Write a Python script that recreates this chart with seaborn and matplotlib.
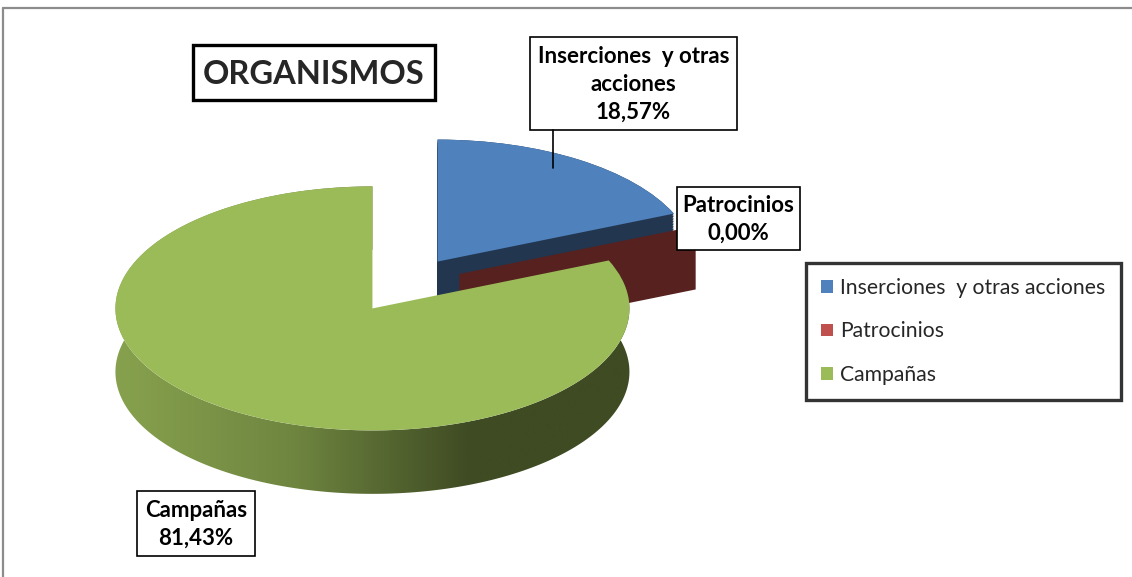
import numpy as np
import matplotlib
matplotlib.use("Agg")
import matplotlib.pyplot as plt
import seaborn as sns
from matplotlib.patches import Polygon, Rectangle, Patch
from matplotlib.colors import LinearSegmentedColormap
from matplotlib.lines import Line2D

# --- data ---
categories = ["Inserciones  y otras acciones", "Patrocinios", "Campañas"]
label_names = ["Inserciones  y otras\nacciones", "Patrocinios", "Campañas"]
values = [18.57, 0.00, 81.43]
top_colors = ["#4F81BD", "#C0504D", "#9BBB59"]
side_colors = ["#22364F", "#56211F", "#5C7033"]
title = "ORGANISMOS"

sns.set_theme(style="white")
plt.rcParams["font.family"] = ["Lato", "DejaVu Sans"]

W, H = 1132, 577
fig = plt.figure(figsize=(W / 100, H / 100), dpi=100)
fig.patch.set_facecolor("white")

# pie axes: unit circle -> ellipse of rx x ry pixels (fake 3d tilt)
cx, cy = 405, 285
rx, ry = 257, 122
depth = 0.52
explode = [0.23] * len(values)

pax = fig.add_axes([0, 0, 1, 1])
pax.set_facecolor("none")

# side walls: stack of shifted pies
steps = np.linspace(depth, 0.0, 40)
for s in steps:
    ws, _ = pax.pie(values, explode=explode, startangle=90, counterclock=False,
                    colors=side_colors, center=(0, -s), normalize=True)
    for i, w in enumerate(ws):
        w.set_zorder(2 + 2 * i)
        w.set_linewidth(0)
        if i == 2:
            w.set_visible(False)

tops, _ = pax.pie(values, explode=explode, startangle=90, counterclock=False,
                  colors=top_colors, normalize=True)
for i, w in enumerate(tops):
    w.set_zorder(3 + 2 * i)
    w.set_linewidth(0)

# zero-width slice: only its cut face shows
red = tops[1]
vx, vy = red.center
th = np.deg2rad(red.theta1)
ex, ey = vx + red.r * np.cos(th), vy + red.r * np.sin(th)
pax.add_patch(Polygon([(vx, vy), (ex, ey), (ex, ey - depth), (vx, vy - depth)],
                      closed=True, fc=side_colors[1], ec="none", zorder=4.5))

# green side wall with horizontal shading
g = tops[2]
ang = np.deg2rad(np.linspace(g.theta1, g.theta2, 300))
gx = g.center[0] + g.r * np.cos(ang)
gy = g.center[1] + g.r * np.sin(ang)
band = np.vstack([np.column_stack([gx, gy]),
                  np.column_stack([gx, gy - depth])[::-1]])
band_patch = Polygon(band, closed=True, fc="none", ec="none")
pax.add_patch(band_patch)
x0, x1 = -cx / rx, (W - cx) / rx
xs = np.linspace(x0, x1, 600)
px = xs * rx + cx
t = np.clip((px - 112) / (470 - 112), 0, 1)
cmap = LinearSegmentedColormap.from_list("gside", ["#87A24E", "#6F8640", "#3F4B23"])
img = pax.imshow(t[np.newaxis, :], cmap=cmap, vmin=0, vmax=1, aspect="auto",
                 extent=[x0, x1, -3, 3], zorder=6, interpolation="bilinear")
img.set_clip_path(band_patch)

pax.set_aspect("auto")
pax.set_xlim(x0, x1)
pax.set_ylim(-(H - cy) / ry, cy / ry)
pax.axis("off")

# overlay in pixel coordinates for boxes and text
ov = fig.add_axes([0, 0, 1, 1], zorder=10)
ov.set_xlim(0, W)
ov.set_ylim(H, 0)
ov.axis("off")
ov.patch.set_alpha(0)

# chart area border (top and left visible)
ov.add_line(Line2D([3, W], [8, 8], color="#8C8C8C", lw=1.6))
ov.add_line(Line2D([3, 3], [8, H], color="#8C8C8C", lw=1.6))

# title box
ov.add_patch(Rectangle((193, 45), 242, 55, fc="white", ec="black", lw=2.4))
ov.text(314, 74, title, ha="center", va="center", fontsize=23.5, fontweight="bold")


def pct(v):
    return f"{v:.2f}".replace(".", ",") + "%"


# data labels
boxes = [(530, 37, 207, 93), (677, 187, 123, 63), (137, 491, 118, 65)]
for name, v, (bx, by, bw, bh) in zip(label_names, values, boxes):
    ov.add_patch(Rectangle((bx, by), bw, bh, fc="white", ec="black", lw=1.2))
    ov.text(bx + bw / 2, by + bh / 2 + 1, f"{name}\n{pct(v)}", ha="center", va="center",
            fontsize=16, fontweight="bold", linespacing=1.4, color="black")
ov.add_line(Line2D([553, 553], [130, 168], color="black", lw=1.2))

# legend
handles = [Patch(fc=c, ec="none") for c in top_colors]
leg = ov.legend(handles, categories, loc="upper left",
                bbox_to_anchor=(806 / W, 1 - 263 / H), bbox_transform=fig.transFigure,
                borderaxespad=0, frameon=True, fancybox=False, fontsize=15.2,
                handlelength=0.55, handleheight=0.55, handletextpad=0.35,
                labelspacing=1.1, borderpad=0.72)
leg.get_frame().set_edgecolor("black")
leg.get_frame().set_linewidth(2.4)

fig.savefig("out.png", dpi=100, facecolor="white")
